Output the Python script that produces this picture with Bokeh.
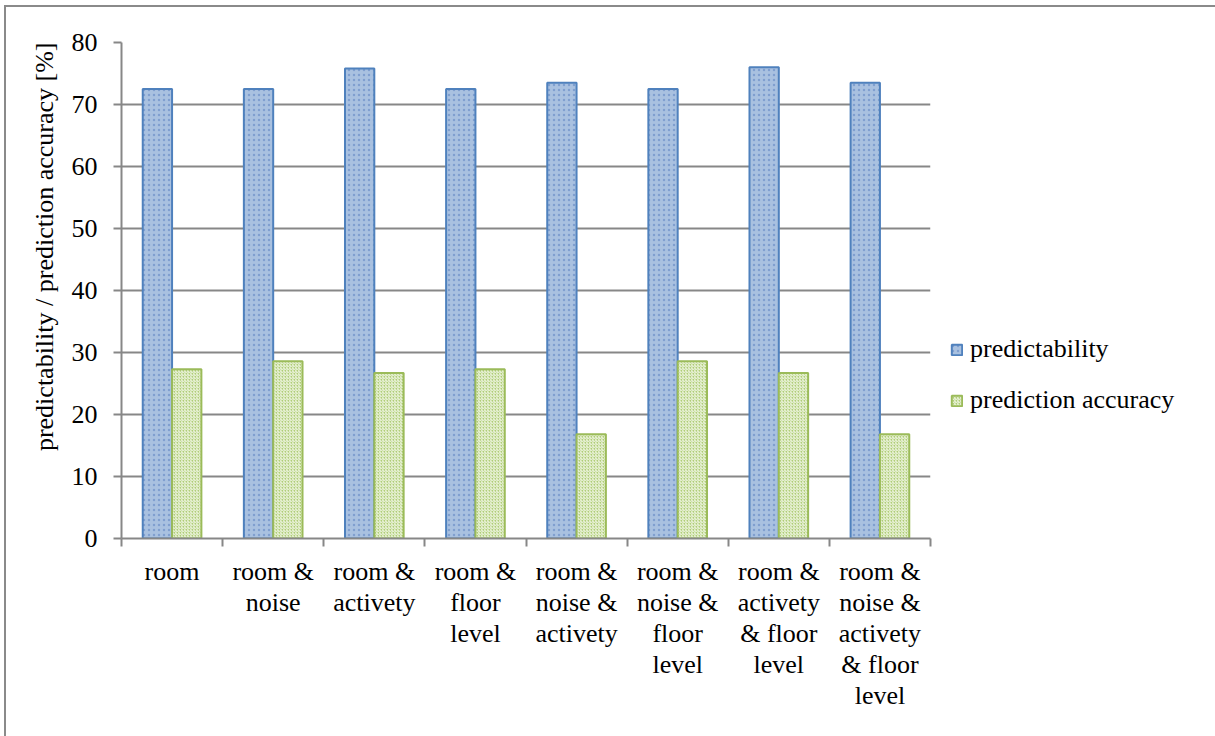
from bokeh.plotting import figure
from bokeh.models import (Range1d, FixedTicker, ColumnDataSource, Legend, LegendItem,
                          Title)
from bokeh.embed import file_html
from bokeh.resources import INLINE

# Feature combinations and the two scores per combination (in percent)
categories = [
    "room",
    "room &\nnoise",
    "room &\nactivety",
    "room &\nfloor\nlevel",
    "room &\nnoise &\nactivety",
    "room &\nnoise &\nfloor\nlevel",
    "room &\nactivety\n& floor\nlevel",
    "room &\nnoise &\nactivety\n& floor\nlevel",
]
predictability = [72.5, 72.5, 75.8, 72.5, 73.5, 72.5, 76.0, 73.5]
prediction_accuracy = [27.3, 28.6, 26.7, 27.3, 16.8, 28.6, 26.7, 16.8]
y_ticks = [0, 10, 20, 30, 40, 50, 60, 70, 80]
y_title = "predictability / prediction accuracy [%]"

FONT = "Liberation Serif"
FSIZE = "26px"
GRID = "#878787"

centers = [i + 0.5 for i in range(len(categories))]
bar_w = 0.29
src = ColumnDataSource(dict(
    x_pred=[c - 0.145 for c in centers],
    x_acc=[c + 0.145 for c in centers],
    pred=predictability,
    acc=prediction_accuracy,
))

# the page frame is a CSS border around the canvas
p = figure(width=1206, height=736, output_backend="svg", toolbar_location=None,
           x_range=Range1d(0, len(categories)), y_range=Range1d(0, 80),
           frame_width=809, frame_height=496,
           min_border_left=115, min_border_right=282, min_border_top=35,
           min_border_bottom=205,
           styles={"border": "2px solid #8a8a8a", "margin-left": "4px",
                   "margin-top": "5px"})
p.outline_line_color = None
p.background_fill_color = "white"
p.border_fill_color = "white"

r_pred = p.vbar(x="x_pred", top="pred", width=bar_w, source=src,
                fill_color="#a9c1e0", line_color="#4f81bd", line_width=2,
                hatch_pattern="dot", hatch_color="#7f9fcf", hatch_scale=5,
                hatch_weight=1)
r_acc = p.vbar(x="x_acc", top="acc", width=bar_w, source=src,
               fill_color="#b0cd78", line_color="#9bbb59", line_width=2,
               hatch_pattern="right_diagonal_line", hatch_color="#f4f9ea",
               hatch_scale=3, hatch_weight=1)

# x axis: ticks at the category boundaries, labels at the centres
xa = p.xaxis[0]
xa.ticker = FixedTicker(ticks=centers, minor_ticks=list(range(len(categories) + 1)))
xa.major_label_overrides = {c: lab for c, lab in zip(centers, categories)}
xa.major_tick_line_color = None
xa.minor_tick_out = 8
xa.minor_tick_in = 0
xa.minor_tick_line_color = GRID
xa.minor_tick_line_width = 2
xa.axis_line_color = GRID
xa.axis_line_width = 2
xa.major_label_text_font = FONT
xa.major_label_text_font_size = FSIZE
xa.major_label_text_line_height = 1.07
xa.major_label_text_color = "black"
xa.major_label_standoff = 10

ya = p.yaxis[0]
ya.ticker = FixedTicker(ticks=y_ticks)
ya.minor_tick_line_color = None
ya.major_tick_out = 8
ya.major_tick_in = 0
ya.major_tick_line_color = GRID
ya.major_tick_line_width = 2
ya.axis_line_color = GRID
ya.axis_line_width = 2
ya.major_label_text_font = FONT
ya.major_label_text_font_size = FSIZE
ya.major_label_text_color = "black"
ya.major_label_standoff = 16

# vertical axis title, running down from the top of the frame
p.add_layout(Title(text=y_title, align="right", offset=0, standoff=20,
                   text_font=FONT, text_font_size=FSIZE,
                   text_font_style="normal", text_color="black"), "left")

p.xgrid.grid_line_color = None
p.ygrid.grid_line_color = GRID
p.ygrid.grid_line_width = 2

# legend sits in the right-hand panel; an empty title pushes the entries down
legend = Legend(items=[LegendItem(label="predictability", renderers=[r_pred]),
                       LegendItem(label="prediction accuracy", renderers=[r_acc])],
                location="top_left", orientation="vertical",
                title=" ", title_text_font_size="1px", title_standoff=271,
                glyph_width=13, glyph_height=13, label_standoff=7,
                spacing=21, padding=0, margin=20,
                label_text_font=FONT, label_text_font_size=FSIZE,
                label_text_color="black",
                border_line_color=None, background_fill_alpha=0)
p.add_layout(legend, "right")

open("out.html", "w").write(file_html(p, INLINE))
